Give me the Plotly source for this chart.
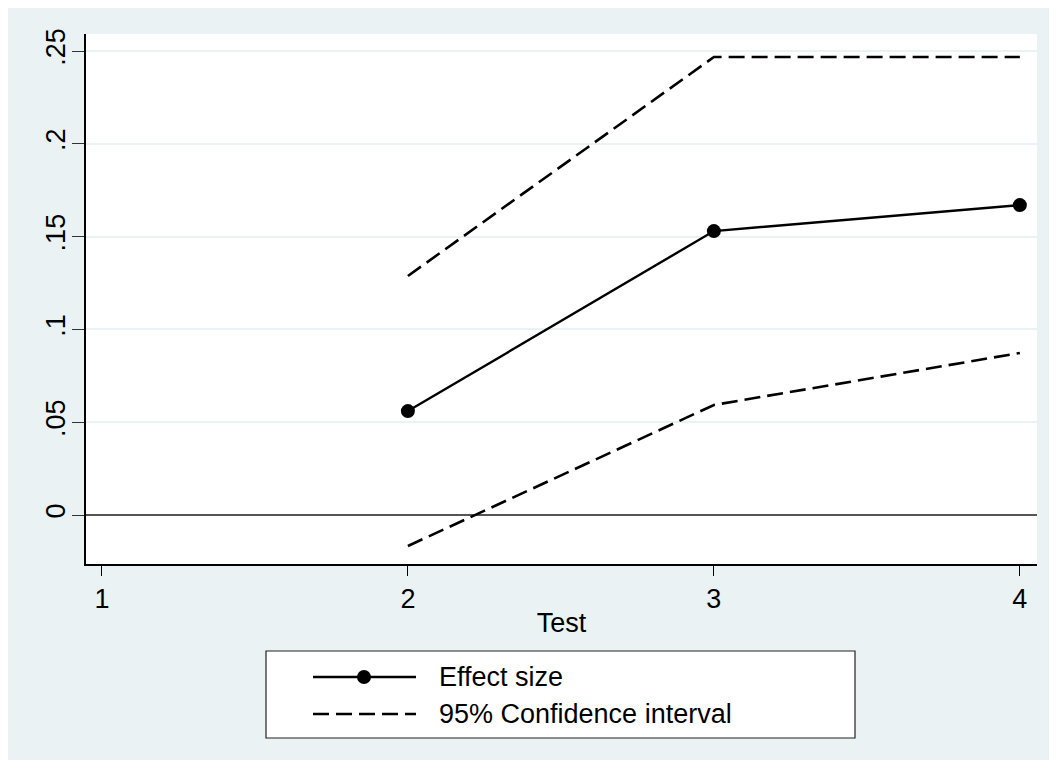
import plotly.graph_objects as go

tests = [2, 3, 4]
effect = [0.056, 0.153, 0.167]
ci_upper = [0.1288, 0.2468, 0.2468]
ci_lower = [-0.0167, 0.0593, 0.0873]

x_ticks = [1, 2, 3, 4]
y_ticks = [0, 0.05, 0.1, 0.15, 0.2, 0.25]
y_ticktext = ["0", ".05", ".1", ".15", ".2", ".25"]

legend_labels = ["Effect size", "95% Confidence interval"]

BG = "#EAF2F3"
FONT = "Liberation Sans, Arial, sans-serif"
DASH = "16px,7px"

fig = go.Figure()
fig.add_trace(go.Scatter(
    x=tests, y=effect, mode="lines+markers", name=legend_labels[0],
    line=dict(color="black", width=2.4),
    marker=dict(color="black", size=14),
    showlegend=False,
))
fig.add_trace(go.Scatter(
    x=tests, y=ci_upper, mode="lines", name=legend_labels[1],
    line=dict(color="black", width=2.6, dash=DASH),
    showlegend=False,
))
fig.add_trace(go.Scatter(
    x=tests, y=ci_lower, mode="lines", name=legend_labels[1],
    line=dict(color="black", width=2.6, dash=DASH),
    showlegend=False,
))

# page body has an 8px margin; figure coordinates below are relative to the figure
W, H = 1049, 752
L, R, T, B = 78, 20, 26, 196
pw, ph = W - L - R, H - T - B


def px(xp):
    return (xp - L) / pw


def py(yp):
    return (H - B - yp) / ph


# custom legend (Stata style: long key lines)
row_y = [669, 706]
key_x0, key_x1 = 305, 408
text_x = 429

shapes = [
    dict(type="rect", xref="paper", yref="paper", layer="below",
         x0=0, x1=1, y0=0, y1=1, fillcolor="white", line=dict(width=0)),
    dict(type="rect", xref="paper", yref="paper",
         x0=px(258), x1=px(847), y0=py(730), y1=py(643),
         fillcolor="white", line=dict(color="#222222", width=1.2)),
    dict(type="line", xref="paper", yref="paper",
         x0=px(key_x0), x1=px(key_x1), y0=py(row_y[0]), y1=py(row_y[0]),
         line=dict(color="black", width=2.4)),
    dict(type="circle", xref="paper", yref="paper",
         x0=px(356 - 7), x1=px(356 + 7), y0=py(row_y[0] + 7), y1=py(row_y[0] - 7),
         fillcolor="black", line=dict(color="black", width=0)),
    dict(type="line", xref="paper", yref="paper",
         x0=px(key_x0), x1=px(key_x1), y0=py(row_y[1]), y1=py(row_y[1]),
         line=dict(color="black", width=2.6, dash=DASH)),
]

annotations = [
    dict(xref="paper", yref="paper", x=px(text_x), y=py(ry),
         xanchor="left", yanchor="middle", showarrow=False,
         text=lab, font=dict(size=27, family=FONT, color="black"))
    for lab, ry in zip(legend_labels, row_y)
]

fig.update_layout(
    width=W, height=H,
    margin=dict(l=L, r=R, t=T, b=B, pad=0),
    paper_bgcolor=BG,
    plot_bgcolor="white",
    font=dict(family=FONT, size=27, color="black"),
    shapes=shapes,
    annotations=annotations,
    showlegend=False,
    xaxis=dict(
        range=[0.948, 4.056], tickvals=x_ticks,
        ticks="outside", ticklen=10, tickwidth=1.2, tickcolor="black",
        showgrid=False, zeroline=False,
        showline=True, linecolor="black", linewidth=1.5,
        title=dict(text="Test", font=dict(size=27), standoff=0),
        tickfont=dict(size=27),
    ),
    yaxis=dict(
        range=[-0.0264, 0.2592], tickvals=y_ticks, ticktext=y_ticktext,
        tickangle=-90, ticklabelstandoff=-4,
        ticks="outside", ticklen=12, tickwidth=1.2, tickcolor="#333333",
        showgrid=True, gridcolor=BG, gridwidth=2,
        zeroline=True, zerolinecolor="#555555", zerolinewidth=1.5,
        showline=True, linecolor="black", linewidth=1.5,
        tickfont=dict(size=27),
    ),
)

fig.write_html("out.html")
